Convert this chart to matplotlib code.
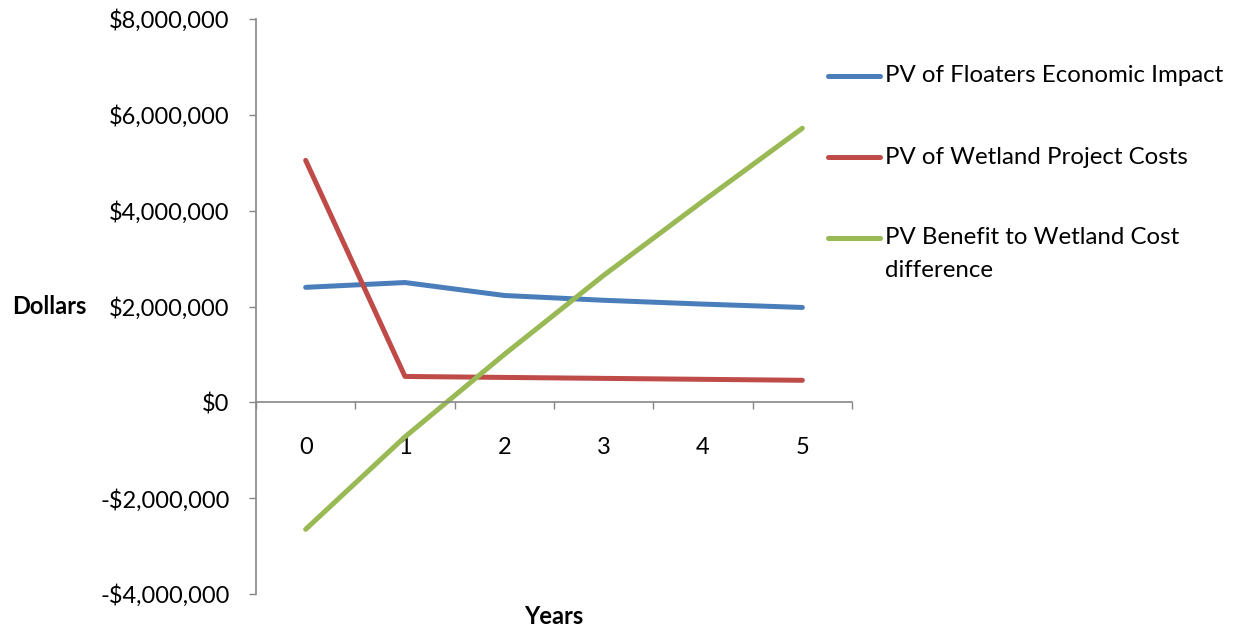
import matplotlib
matplotlib.use("Agg")
import matplotlib.pyplot as plt
from matplotlib.lines import Line2D
from matplotlib.ticker import FuncFormatter

# Values in dollars, one per year
years = [0, 1, 2, 3, 4, 5]
floaters_impact = [2400000, 2500000, 2230000, 2130000, 2050000, 1980000]
wetland_costs = [5050000, 540000, 520000, 500000, 480000, 460000]
benefit_difference = [-2650000, -720000, 1000000, 2650000, 4200000, 5720000]

series_labels = [
    "PV of Floaters Economic Impact",
    "PV of Wetland Project Costs",
    "PV Benefit to Wetland Cost\ndifference",
]
series_colors = ["#4A7EBB", "#BE4B48", "#98B954"]

y_ticks = [-4000000, -2000000, 0, 2000000, 4000000, 6000000, 8000000]

plt.rcParams["font.family"] = ["Lato", "DejaVu Sans"]
FS = 17
AXIS_GREY = "#868686"

fig = plt.figure(figsize=(12.36, 6.31), dpi=100)
ax = fig.add_axes([256 / 1236, 1 - 594 / 631, (852 - 256) / 1236, (594 - 19) / 631])

for vals, col in zip([floaters_impact, wetland_costs, benefit_difference], series_colors):
    ax.plot(years, vals, color=col, lw=3.6, solid_capstyle="round", solid_joinstyle="round")

ax.set_xlim(-0.5, 5.5)
ax.set_ylim(-4000000, 8000000)

# y axis
ax.set_yticks(y_ticks)
ax.yaxis.set_major_formatter(FuncFormatter(lambda v, p: ("-$" if v < 0 else "$") + f"{abs(int(v)):,}"))
ax.tick_params(axis="y", direction="out", length=5, width=1, color=AXIS_GREY,
               labelsize=FS, pad=14)

# x axis sits at zero; boundaries get tick marks, centres get labels
for s in ["top", "right"]:
    ax.spines[s].set_visible(False)
ax.spines["bottom"].set_position(("data", 0))
for s in ["left", "bottom"]:
    ax.spines[s].set_color(AXIS_GREY)
    ax.spines[s].set_linewidth(1.2)
ax.set_xticks([y - 0.5 for y in years] + [years[-1] + 0.5])
ax.set_xticklabels([])
ax.tick_params(axis="x", which="major", direction="out", length=5, width=1, color=AXIS_GREY)
ax.set_xticks(years, minor=True)
ax.set_xticklabels([str(y) for y in years], minor=True)
ax.tick_params(axis="x", which="minor", length=0, labelsize=FS, pad=25)

fig.text(12 / 1236, 1 - 307 / 631, "Dollars", fontsize=FS, fontweight="bold", ha="left", va="center")
fig.text(554 / 1236, 1 - 617 / 631, "Years", fontsize=FS, fontweight="bold", ha="center", va="center")

# legend on the right
legend_y = [76, 157, 238]
line_step = 32
for lab, col, yy in zip(series_labels, series_colors, legend_y):
    yf = 1 - yy / 631
    fig.add_artist(Line2D([828 / 1236, 880 / 1236], [yf, yf], color=col, lw=3.6,
                          solid_capstyle="round", transform=fig.transFigure))
    for i, part in enumerate(lab.split("\n")):
        fig.text(885 / 1236, 1 - (yy + i * line_step) / 631, part, fontsize=FS + 0.3,
                 ha="left", va="center")

fig.savefig("out.png", dpi=100)
